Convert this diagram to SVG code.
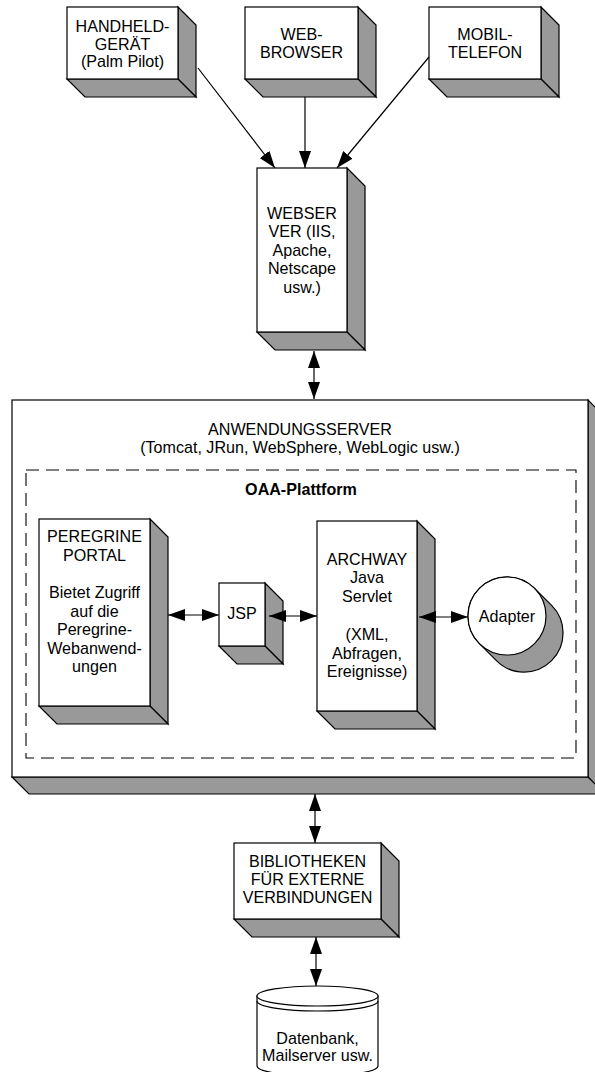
<svg xmlns="http://www.w3.org/2000/svg" width="595" height="1072" viewBox="0 0 595 1072">
<style>
.front{fill:#fff;stroke:#000;stroke-width:1.2}
.shade{fill:#999;stroke:#000;stroke-width:1.2;stroke-linejoin:miter}
text{font-family:"Liberation Sans",Arial,sans-serif;font-size:16.1px;fill:#000;text-anchor:middle}
.bold{font-weight:bold}
.conn{stroke:#000;stroke-width:1.2;fill:none;marker-end:url(#ah)}
.dbl{marker-start:url(#ah)}
</style>
<defs>
<marker id="ah" markerUnits="userSpaceOnUse" markerWidth="17" markerHeight="12" refX="17" refY="6" orient="auto-start-reverse" viewBox="0 0 17 12">
<path d="M0,0 L17,6 L0,12 z" fill="#000"/>
</marker>
</defs>
<rect width="595" height="1072" fill="#fff"/>

<g id="handheld">
<polygon class="shade" points="178,7 196,25 196,97 178,79"/>
<polygon class="shade" points="67,79 178,79 196,97 85,97"/>
<rect class="front" x="67" y="7" width="111" height="72"/>
<text x="122.5" y="32">HANDHELD-</text>
<text x="122.5" y="49.5">GERÄT</text>
<text x="122.5" y="67">(Palm Pilot)</text>
</g>

<g id="webbrowser">
<polygon class="shade" points="358,7 376,25 376,97 358,79"/>
<polygon class="shade" points="245,79 358,79 376,97 263,97"/>
<rect class="front" x="245" y="7" width="113" height="72"/>
<text x="301.5" y="40">WEB-</text>
<text x="301.5" y="57.5">BROWSER</text>
</g>

<g id="mobiltelefon">
<polygon class="shade" points="541,7 559,25 559,97 541,79"/>
<polygon class="shade" points="429,79 541,79 559,97 447,97"/>
<rect class="front" x="429" y="7" width="112" height="72"/>
<text x="485" y="40">MOBIL-</text>
<text x="485" y="57.5">TELEFON</text>
</g>

<g id="webserver">
<polygon class="shade" points="347,168 365,186 365,350 347,332"/>
<polygon class="shade" points="257,332 347,332 365,350 275,350"/>
<rect class="front" x="257" y="168" width="90" height="164"/>
<text x="302" y="218.5">WEBSER</text>
<text x="302" y="237">VER (IIS,</text>
<text x="302" y="255.5">Apache,</text>
<text x="302" y="274">Netscape</text>
<text x="302" y="292.5">usw.)</text>
</g>

<g id="anwendungsserver">
<polygon class="shade" points="588,400 605,417 605,794 588,777"/>
<polygon class="shade" points="12,777 588,777 605,794 29,794"/>
<rect class="front" x="12" y="400" width="576" height="377"/>
<text x="300" y="434.5">ANWENDUNGSSERVER</text>
<text x="300" y="453">(Tomcat, JRun, WebSphere, WebLogic usw.)</text>
</g>

<g id="oaa-plattform">
<rect x="26" y="470" width="550" height="288" fill="none" stroke="#000" stroke-width="1.1" stroke-dasharray="13 7"/>
<text class="bold" x="301" y="495">OAA-Plattform</text>
</g>

<g id="peregrine">
<polygon class="shade" points="150,519 168,537 168,724 150,706"/>
<polygon class="shade" points="39,706 150,706 168,724 57,724"/>
<rect class="front" x="39" y="519" width="111" height="187"/>
<text x="94.5" y="542">PEREGRINE</text>
<text x="94.5" y="560.5">PORTAL</text>
<text x="94.5" y="598">Bietet Zugriff</text>
<text x="94.5" y="616.5">auf die</text>
<text x="94.5" y="635">Peregrine-</text>
<text x="94.5" y="653.5">Webanwend-</text>
<text x="94.5" y="672">ungen</text>
</g>

<g id="jsp">
<polygon class="shade" points="265,583 283,601 283,664 265,646"/>
<polygon class="shade" points="219,646 265,646 283,664 237,664"/>
<rect class="front" x="219" y="583" width="46" height="63"/>
<text x="242" y="619">JSP</text>
</g>

<g id="archway">
<polygon class="shade" points="417,521 435,539 435,729 417,711"/>
<polygon class="shade" points="317,711 417,711 435,729 335,729"/>
<rect class="front" x="317" y="521" width="100" height="190"/>
<text x="367" y="564.5">ARCHWAY</text>
<text x="367" y="583">Java</text>
<text x="367" y="601.5">Servlet</text>
<text x="367" y="640">(XML,</text>
<text x="367" y="658.5">Abfragen,</text>
<text x="367" y="677">Ereignisse)</text>
</g>

<g id="adapter">
<path class="shade" d="M479.4,643.6 L496.4,660.6 A39,39 0 0 0 551.6,605.4 L534.6,588.4 A39,39 0 0 0 479.4,643.6 Z"/>
<circle class="front" cx="507" cy="616" r="39"/>
<text x="507" y="621.5">Adapter</text>
</g>

<g id="bibliotheken">
<polygon class="shade" points="381,843 399,861 399,937 381,919"/>
<polygon class="shade" points="234,919 381,919 399,937 252,937"/>
<rect class="front" x="234" y="843" width="147" height="76"/>
<text x="307.5" y="866.5">BIBLIOTHEKEN</text>
<text x="307.5" y="884.5">FÜR EXTERNE</text>
<text x="307.5" y="902.5">VERBINDUNGEN</text>
</g>

<g id="datenbank">
<path class="front" d="M257,996 L257,1066 A60.5,10 0 0 0 378,1066 L378,996 Z"/>
<ellipse class="front" cx="317.5" cy="996" rx="60.5" ry="10"/>
<path d="M257,1001 A60.5,10 0 0 0 378,1001" fill="none" stroke="#000" stroke-width="1.2"/>
<text x="317.5" y="1043.5">Datenbank,</text>
<text x="317.5" y="1061">Mailserver usw.</text>
</g>

<g id="connectors">
<path class="conn" d="M198,68 L275,168"/>
<path class="conn" d="M305,97 L305,168"/>
<path class="conn" d="M429,57 L337,168"/>
<path class="conn dbl" d="M314,351 L314,399"/>
<path class="conn dbl" d="M168,615 L219,615"/>
<path class="conn dbl" d="M269,616 L317,616"/>
<path class="conn dbl" d="M419,617 L468,617"/>
<path class="conn dbl" d="M315,794 L315,843"/>
<path class="conn dbl" d="M316,937 L316,986"/>
</g>
</svg>
